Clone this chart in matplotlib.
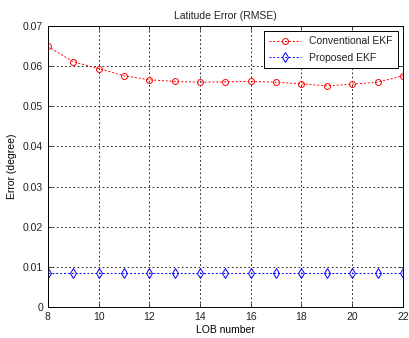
import matplotlib
matplotlib.use("Agg")
import matplotlib.pyplot as plt
import numpy as np

# data
lob = np.arange(8, 23)
conventional = [0.0649, 0.0611, 0.0594, 0.0576, 0.0566, 0.0562, 0.0560, 0.0561,
                0.0562, 0.0560, 0.0556, 0.0551, 0.0555, 0.0560, 0.0576]
proposed = [0.0085] * 15

plt.rcParams['font.family'] = ['Liberation Sans', 'DejaVu Sans']
plt.rcParams['font.size'] = 7.5
plt.rcParams['text.color'] = '#222222'
plt.rcParams['xtick.color'] = '#222222'
plt.rcParams['ytick.color'] = '#222222'

fig = plt.figure(figsize=(4.09, 3.38), dpi=100)
ax = fig.add_axes([0.117, 0.092, 0.868, 0.831])

ax.plot(lob, conventional, color='red', linestyle=(0, (2, 2)), linewidth=0.7,
        marker='o', markersize=4.3, markerfacecolor='none', markeredgewidth=0.7,
        label='Conventional EKF')
ax.plot(lob, proposed, color='blue', linestyle=(0, (2, 2)), linewidth=0.7,
        marker='d', markersize=4.8, markerfacecolor='none', markeredgewidth=0.7,
        label='Proposed EKF')

ax.set_xlim(8, 22)
ax.set_ylim(0, 0.07)
ax.set_xticks(np.arange(8, 23, 2))
ax.set_yticks(np.arange(0, 0.071, 0.01))
ax.set_yticklabels(['0', '0.01', '0.02', '0.03', '0.04', '0.05', '0.06', '0.07'])
ax.tick_params(direction='in', length=3, width=0.6, top=True, right=True)
ax.grid(True, color='black', linestyle=(0, (2, 3)), linewidth=0.6)
for s in ax.spines.values():
    s.set_linewidth(0.7)

ax.set_title('Latitude Error (RMSE)', fontsize=7.5, pad=5)
ax.set_xlabel('LOB number', labelpad=2)
ax.set_ylabel('Error (degree)', labelpad=4)

leg = ax.legend(loc='upper right', fancybox=False, edgecolor='black',
                framealpha=1, borderaxespad=0.5, handlelength=3.0,
                fontsize=7.5, borderpad=0.5, labelspacing=0.6)
leg.get_frame().set_linewidth(0.7)

fig.savefig('out.png', dpi=100)
